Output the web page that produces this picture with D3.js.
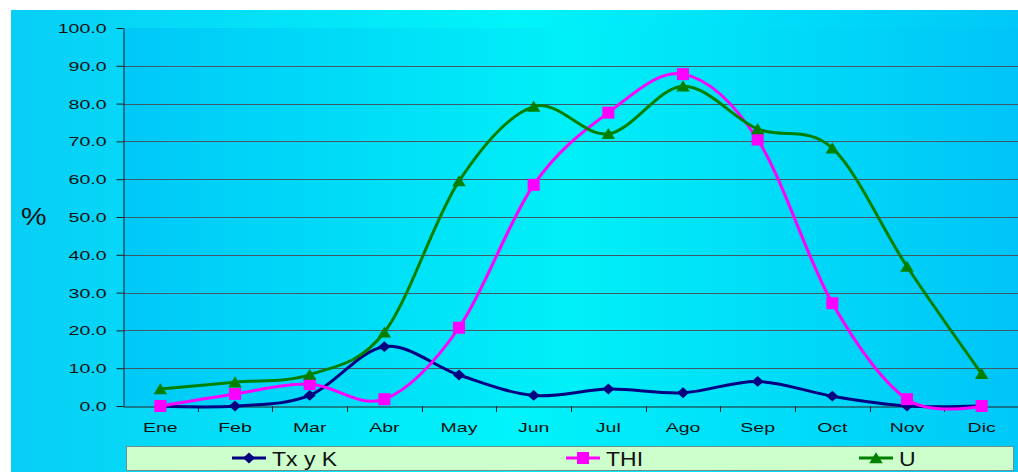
<!DOCTYPE html>
<html>
<head>
<meta charset="utf-8">
<script src="https://cdn.jsdelivr.net/npm/d3@7"></script>
<style>
  html, body { margin: 0; padding: 0; background: #ffffff; }
  svg { display: block; }
  text { font-family: "Liberation Sans", Arial, sans-serif; fill: #111; }
</style>
</head>
<body>
<svg id="chart" width="1018" height="472"></svg>
<script>
// ---- data ----
const months = ["Ene","Feb","Mar","Abr","May","Jun","Jul","Ago","Sep","Oct","Nov","Dic"];
const txyk = [0, 0, 2.8, 15.7, 8.2, 2.8, 4.5, 3.5, 6.5, 2.6, 0, 0];
const thi  = [0, 3.2, 5.8, 1.8, 20.7, 58.5, 77.6, 87.8, 70.5, 27.2, 1.8, 0];
const u    = [4.5, 6.3, 8.3, 19.5, 59.5, 79.2, 72.0, 84.6, 73.3, 68.2, 36.9, 8.5];
const yTicks = [0, 10, 20, 30, 40, 50, 60, 70, 80, 90, 100];
const seriesNames = ["Tx y K", "THI", "U"];

(function () {
const series = [
  {name: seriesNames[0], values: txyk, color: "#000080", marker: "diamond"},
  {name: seriesNames[1], values: thi,  color: "#FF00FF", marker: "square"},
  {name: seriesNames[2], values: u,    color: "#008000", marker: "triangle"}
];

const svg = d3.select("#chart");
const SX = 1.5; // horizontal text stretch of the original

// gradients
const defs = svg.append("defs");
const g1 = defs.append("linearGradient").attr("id","outerGrad").attr("x1","0").attr("x2","1").attr("y1","0").attr("y2","0");
g1.append("stop").attr("offset","0%").attr("stop-color","#08CEF6");
g1.append("stop").attr("offset","50%").attr("stop-color","#00F4FA");
g1.append("stop").attr("offset","100%").attr("stop-color","#00C8F8");
const g2 = defs.append("linearGradient").attr("id","plotGrad").attr("x1","0").attr("x2","1").attr("y1","0").attr("y2","0");
g2.append("stop").attr("offset","0%").attr("stop-color","#00C8F8");
g2.append("stop").attr("offset","50%").attr("stop-color","#00F0F8");
g2.append("stop").attr("offset","100%").attr("stop-color","#00C4F8");

// chart area
svg.append("rect").attr("x",11).attr("y",10).attr("width",1007).attr("height",462).attr("fill","url(#outerGrad)");

const pLeft = 123, pRight = 1019, pTop = 28, pBottom = 406;
svg.append("rect").attr("x",pLeft).attr("y",pTop).attr("width",pRight-pLeft).attr("height",pBottom-pTop).attr("fill","url(#plotGrad)");

const x = d3.scaleBand().domain(months).range([pLeft, pRight]).paddingInner(0).paddingOuter(0);
const xc = m => x(m) + x.bandwidth()/2;
const y = d3.scaleLinear().domain([0, 100]).range([pBottom, pTop]);

// gridlines
svg.append("g").selectAll("line").data(yTicks.filter(t => t > 0 && t < 100)).join("line")
  .attr("x1", pLeft).attr("x2", pRight)
  .attr("y1", d => Math.round(y(d)) + 0.5).attr("y2", d => Math.round(y(d)) + 0.5)
  .attr("stroke", "#3c5a6a").attr("stroke-width", 1);

// y axis
const yAxis = svg.append("g").attr("transform", `translate(${pLeft + 0.5},0)`)
  .call(d3.axisLeft(y).tickValues(yTicks).tickFormat(d3.format(".1f")).tickSizeInner(7).tickSizeOuter(0).tickPadding(0));
yAxis.select(".domain").attr("stroke", "#222");
yAxis.selectAll(".tick line").attr("stroke", "#222");
yAxis.selectAll(".tick text")
  .attr("x", -17 / SX).attr("dy", null).attr("y", 4.5)
  .attr("transform", `scale(${SX},1)`)
  .style("font-size", "13px").style("fill", "#111");

// x axis
const xAxis = svg.append("g").attr("transform", `translate(0,${pBottom + 0.5})`)
  .call(d3.axisBottom(x).tickSize(0).tickPadding(0));
xAxis.select(".domain").attr("stroke", "#222");
xAxis.selectAll(".tick text")
  .attr("y", 0).attr("dy", null)
  .attr("transform", `translate(0,25) scale(${SX},1)`)
  .style("font-size", "13px").style("fill", "#111");
// category boundary ticks
svg.append("g").selectAll("line").data(months.slice(1)).join("line")
  .attr("x1", d => Math.round(x(d)) + 0.5).attr("x2", d => Math.round(x(d)) + 0.5)
  .attr("y1", pBottom).attr("y2", pBottom + 6)
  .attr("stroke", "#222");

// % label
svg.append("text").attr("transform", `translate(21,225) scale(1.25,1)`)
  .style("font-size", "23px").text("%");

// marker path generator
function markerPath(type, s) {
  if (type === "diamond") return `M0,${-s*0.45}L${s*0.5},0L0,${s*0.45}L${-s*0.5},0Z`;
  if (type === "square") return `M${-s/2},${-s/2}h${s}v${s}h${-s}Z`;
  return `M0,${-s*0.45}L${s*0.52},${s*0.4}L${-s*0.52},${s*0.4}Z`;
}
const msize = {diamond: 12, square: 12, triangle: 13};

const line = d3.line().x((d,i) => xc(months[i])).y(d => y(d)).curve(d3.curveCardinal.tension(0));

series.forEach(s => {
  const g = svg.append("g");
  g.append("path").attr("d", line(s.values)).attr("fill","none")
    .attr("stroke", s.color).attr("stroke-width", 3).attr("stroke-linejoin","round");
  g.selectAll("path.m").data(s.values).join("path").attr("class","m")
    .attr("transform", (d,i) => `translate(${xc(months[i])},${y(d)})`)
    .attr("d", markerPath(s.marker, msize[s.marker]))
    .attr("fill", s.color);
});

// legend
svg.append("rect").attr("x",126.5).attr("y",446.5).attr("width",887).attr("height",24)
  .attr("fill","#CCFFCC").attr("stroke","#6f8f8f").attr("stroke-width",1);
const legendX = [232, 566, 859];
series.forEach((s, i) => {
  const lx = legendX[i];
  const g = svg.append("g").attr("transform", `translate(${lx},458)`);
  g.append("line").attr("x1",0).attr("x2",34).attr("y1",0).attr("y2",0).attr("stroke",s.color).attr("stroke-width",3);
  g.append("path").attr("transform","translate(17,0)").attr("d", markerPath(s.marker, msize[s.marker])).attr("fill", s.color);
  g.append("text").attr("transform", `translate(40,7.5) scale(1.15,1)`)
    .style("font-size","20px").text(s.name);
});
})();
</script>
</body>
</html>
